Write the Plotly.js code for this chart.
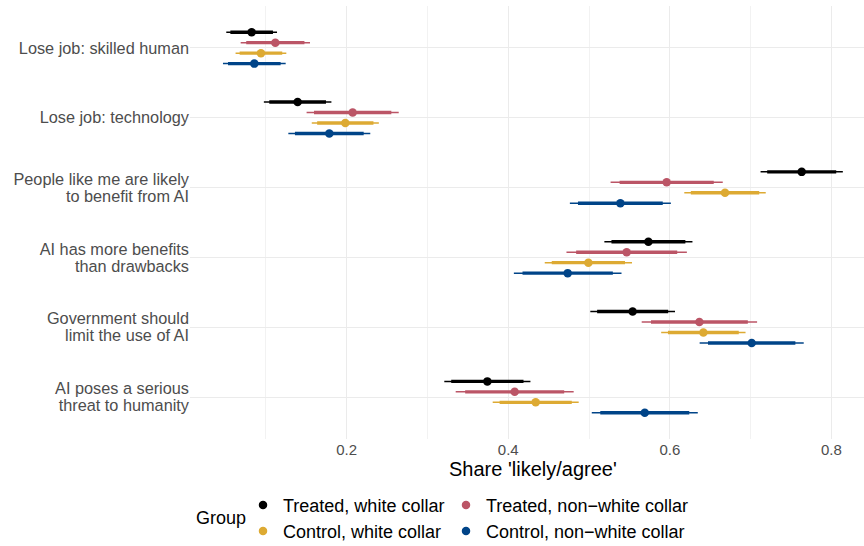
<!DOCTYPE html>
<html><head><meta charset="utf-8">
<script src="https://cdn.plot.ly/plotly-3.0.1.min.js"></script>
<style>html,body{margin:0;padding:0;background:#fff}</style>
</head><body><div id="chart" style="width:864px;height:546px"></div>
<script>
var categories = [
  "Lose job: skilled human",
  "Lose job: technology",
  "People like me are likely<br>to benefit from AI",
  "AI has more benefits<br>than drawbacks",
  "Government should<br>limit the use of AI",
  "AI poses a serious<br>threat to humanity"
];
var groups = ["Treated, white collar", "Treated, non\u2212white collar", "Control, white collar", "Control, non\u2212white collar"];
var colors = ["#000000", "#BB5566", "#DDAA33", "#004488"];

// point estimates (share 'likely/agree')
var treatedWhite    = [0.0825, 0.1394, 0.7632, 0.5735, 0.5540, 0.3742];
var treatedNonWhite = [0.1118, 0.2075, 0.5961, 0.5466, 0.6366, 0.4080];
var controlWhite    = [0.0940, 0.1984, 0.6683, 0.4992, 0.6415, 0.4340];
var controlNonWhite = [0.0858, 0.1786, 0.5388, 0.4736, 0.7013, 0.5690];

// 95% CI half-widths
var moeTreatedWhite    = [0.0314, 0.0418, 0.0509, 0.0545, 0.0524, 0.0533];
var moeTreatedNonWhite = [0.0429, 0.0570, 0.0694, 0.0745, 0.0714, 0.0730];
var moeControlWhite    = [0.0314, 0.0415, 0.0504, 0.0540, 0.0522, 0.0532];
var moeControlNonWhite = [0.0388, 0.0507, 0.0625, 0.0666, 0.0644, 0.0656];

var xTickVals = [0.2, 0.4, 0.6, 0.8];
var xTickText = ["0.2", "0.4", "0.6", "0.8"];
var xTitle = "Share 'likely/agree'";
var legendTitle = "Group";

var estimates = [treatedWhite, treatedNonWhite, controlWhite, controlNonWhite];
var moes = [moeTreatedWhite, moeTreatedNonWhite, moeControlWhite, moeControlNonWhite];

// geometry
var W = 864, H = 546;
var M = {l: 190, r: 0, t: 5.5, b: 106.5};
var plotW = W - M.l - M.r, plotH = H - M.t - M.b;
var yRange = [5.6, -0.6];
var unitsPerPx = (yRange[0] - yRange[1]) / plotH;
var lineStep = 17 * unitsPerPx;

// y tick labels: one tick per text line so that line spacing matches
var yTickVals = [], yTickText = [];
categories.forEach(function (c, i) {
  var lines = c.split("<br>");
  lines.forEach(function (ln, k) {
    yTickVals.push(i + (k - (lines.length - 1) / 2) * lineStep);
    yTickText.push(ln);
  });
});
var catIdx = categories.map(function (c, i) { return i; });

var dodge = 0.15;
var legendIds = ["legend", "legend2", "legend3", "legend4"];
var traces = [];
for (var g = 0; g < groups.length; g++) {
  var ys = categories.map(function (c, i) { return i + (g - 1.5) * dodge; });
  var m95 = moes[g];
  var m90 = m95.map(function (v) { return v * 1.645 / 1.96; });
  traces.push({
    type: "scatter", mode: "markers", x: estimates[g], y: ys,
    marker: {color: "rgba(0,0,0,0)", size: 1},
    error_x: {type: "data", symmetric: true, array: m95, color: colors[g], thickness: 1.5, width: 0},
    showlegend: false, hoverinfo: "skip"
  });
  traces.push({
    type: "scatter", mode: "markers", x: estimates[g], y: ys, name: groups[g],
    marker: {color: colors[g], size: 8.5},
    error_x: {type: "data", symmetric: true, array: m90, color: colors[g], thickness: 3.4, width: 0},
    legend: legendIds[g]
  });
}

function px2paperX(px) { return (px - M.l) / plotW; }
function px2paperY(py) { return (H - M.b - py) / plotH; }

var legendBase = {
  orientation: "h", xanchor: "left", yanchor: "middle",
  font: {family: "Liberation Sans, Arial, sans-serif", size: 18, color: "#000000"},
  bgcolor: "rgba(0,0,0,0)", borderwidth: 0,
  itemclick: false, itemdoubleclick: false
};
var col1 = px2paperX(243), col2 = px2paperX(446);
var row1 = px2paperY(506), row2 = px2paperY(532);

var layout = {
  width: W, height: H,
  margin: {l: M.l, r: M.r, t: M.t, b: M.b, autoexpand: false},
  paper_bgcolor: "#ffffff", plot_bgcolor: "#ffffff",
  font: {family: "Liberation Sans, Arial, sans-serif", color: "#4D4D4D"},
  showlegend: true,
  xaxis: {
    range: [0.0062, 0.8403], autorange: false,
    tickvals: xTickVals, ticktext: xTickText,
    showgrid: true, gridcolor: "#EBEBEB", gridwidth: 1.1,
    minor: {dtick: 0.1, tick0: 0, showgrid: true, gridcolor: "#EFEFEF", gridwidth: 0.8, ticks: ""},
    zeroline: false, showline: false, ticks: "",
    tickfont: {size: 15, color: "#4D4D4D"},
    ticklabelstandoff: 0,
    automargin: false
  },
  yaxis: {
    range: yRange, autorange: false,
    tickmode: "array", tickvals: yTickVals, ticktext: yTickText,
    showgrid: false,
    minor: {tickmode: "array", tickvals: catIdx, showgrid: true, gridcolor: "#EBEBEB", gridwidth: 1.1, ticks: ""},
    zeroline: false, showline: false, ticks: "",
    tickfont: {size: 16.3, color: "#4D4D4D"},
    automargin: false
  },
  legend:  Object.assign({}, legendBase, {x: col1, y: row1}),
  legend2: Object.assign({}, legendBase, {x: col2, y: row1}),
  legend3: Object.assign({}, legendBase, {x: col1, y: row2}),
  legend4: Object.assign({}, legendBase, {x: col2, y: row2}),
  annotations: [
    {
      text: legendTitle, xref: "paper", yref: "paper", x: px2paperX(194), y: px2paperY(519),
      xanchor: "left", yanchor: "middle", showarrow: false,
      font: {size: 18, color: "#000000"}
    },
    {
      text: xTitle, xref: "paper", yref: "paper", x: px2paperX(533), y: px2paperY(470),
      xanchor: "center", yanchor: "middle", showarrow: false,
      font: {size: 20, color: "#000000"}
    }
  ]
};

Plotly.newPlot("chart", traces, layout, {displayModeBar: false, staticPlot: true});
</script></body></html>
